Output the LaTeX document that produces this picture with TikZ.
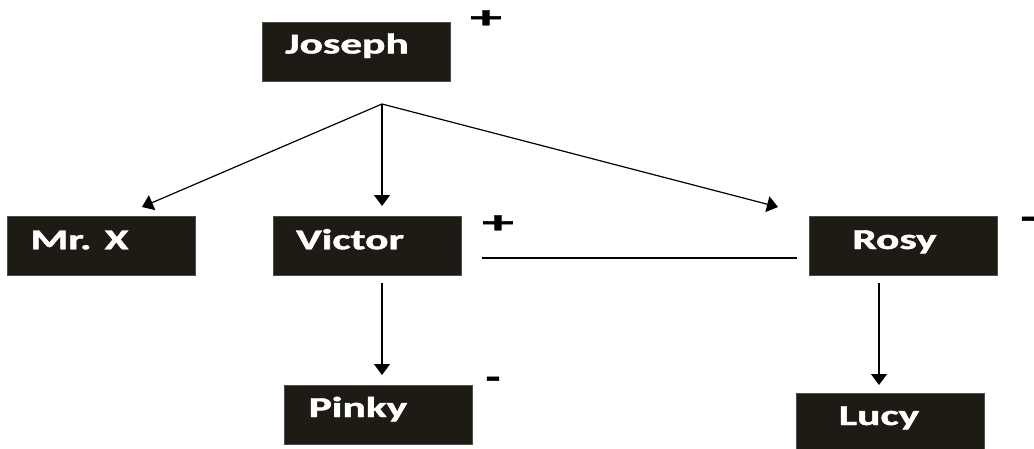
\documentclass[tikz,border=0pt]{standalone}
\usepackage{fontspec}
\setmainfont{Carlito}
\newfontfamily\lblfont{Carlito}[UprightFont=*-Bold,FakeBold=1.3]
\usetikzlibrary{arrows.meta,calc}
\definecolor{boxfill}{RGB}{30,27,20}
\newcommand{\lbl}[3]{\makebox[0pt][c]{\hspace*{\dimexpr 2\dimexpr #1\relax\relax}\raisebox{#2}{\smash{\scalebox{1.55}[1.03]{#3}}}}}
\tikzset{
  famnode/.style={draw=black!70, fill=boxfill, text=white, minimum width=188pt,
    minimum height=59pt, inner sep=0pt, font=\fontsize{28}{28}\lblfont},
  sign/.style={inner sep=0pt, font=\fontsize{30}{30}\lblfont},
  link/.style={line width=1.2pt, draw=black},
  arr/.style={link, -{Triangle[width=16pt,length=11pt]}}
}
\begin{document}
\begin{tikzpicture}[x=1pt,y=-1pt]
\useasboundingbox (0,0) rectangle (1034,448);
\node[famnode] (joseph) at (356,51.5) {\lbl{-9pt}{-4pt}{Joseph}};
\node[famnode] (mrx) at (101.5,246) {\lbl{-22pt}{-6.5pt}{Mr. X}};
\node[famnode] (victor) at (367.5,246) {\lbl{-17.5pt}{-6.5pt}{Victor}};
\node[famnode] (rosy) at (903,245.5) {\lbl{-8.5pt}{-7pt}{Rosy}};
\node[famnode] (pinky) at (378,414.5) {\lbl{-20pt}{-5pt}{Pinky}};
\node[famnode] (lucy) at (890,422.5) {\lbl{-11pt}{-5pt}{Lucy}};
% signs
\node[sign] (jplus) at (486,19) {\scalebox{2.1}[1.05]{+}};
\node[sign] (vplus) at (498,224) {\scalebox{2.1}[1.05]{+}};
\node[sign] (pminus) at (493,383) {\scalebox{1.6}[1.2]{-}};
\node[sign] (rminus) at (1028,223) {\scalebox{1.6}[1.2]{-}};
% coordinates
\coordinate (jb) at (382,104);
\coordinate (mxin) at (142,207);
\coordinate (vin) at (382,206);
\coordinate (rin) at (778,207);
\coordinate (vout) at (382,283);
\coordinate (pin) at (382,375);
\coordinate (rout) at (879,283);
\coordinate (lin) at (879,385);
\coordinate (mleft) at (482,258);
\coordinate (mright) at (797,258);
% connectors
\draw[arr] (jb) -- (mxin);
\draw[arr] (jb) -- (vin);
\draw[arr] (jb) -- (rin);
\draw[arr] (vout) -- (pin);
\draw[arr] (rout) -- (lin);
\draw[link] (mleft) -- (mright);
\end{tikzpicture}
\end{document}
